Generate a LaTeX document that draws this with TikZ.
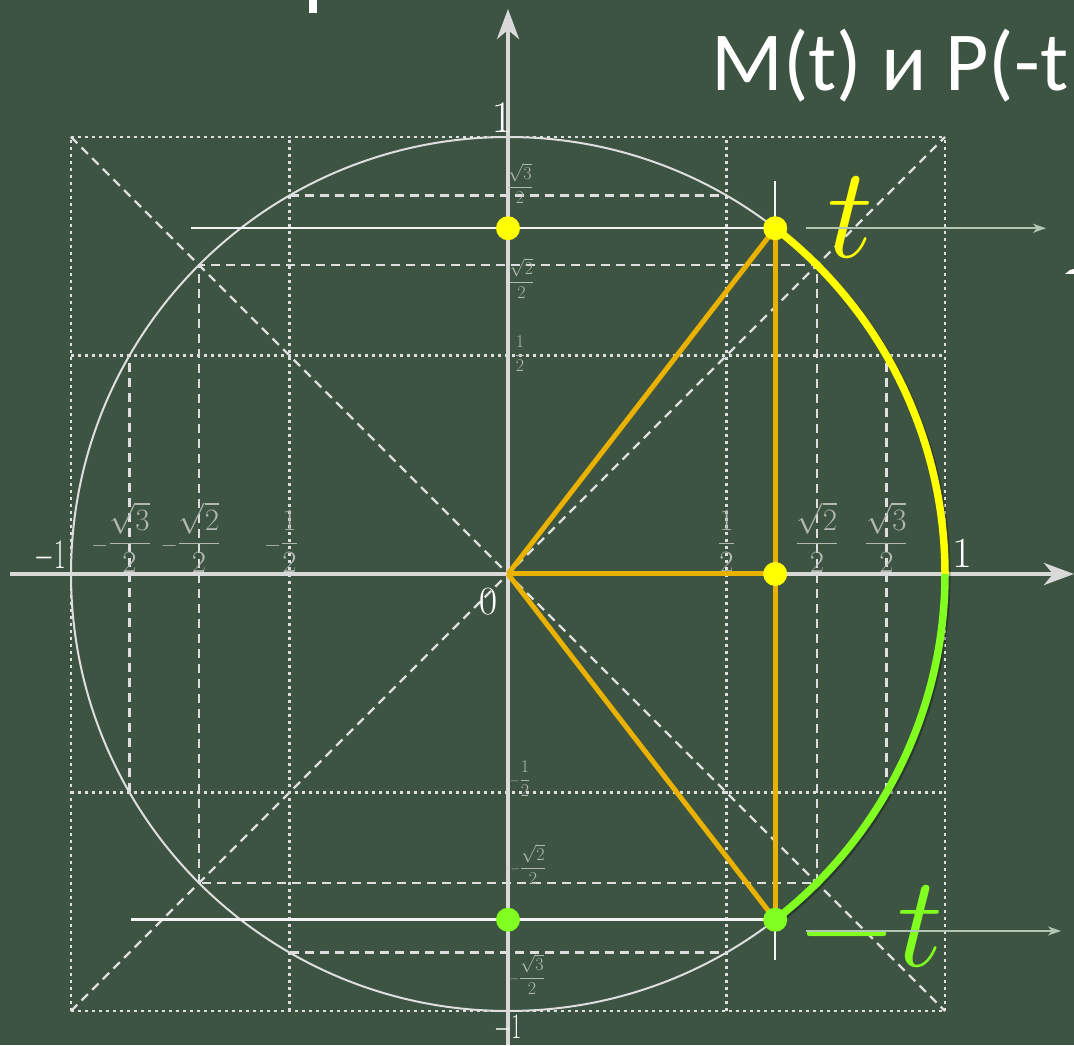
\RequirePackage{fix-cm}
\documentclass[tikz,border=0pt]{standalone}
\usepackage{amsmath}
\usepackage{graphicx}
\usepackage{fontspec}
\newfontfamily\titlefont{Carlito}
\usetikzlibrary{arrows.meta}
\definecolor{bg}{RGB}{62,84,66}
\definecolor{axisc}{RGB}{217,217,217}
\definecolor{gridc}{RGB}{222,222,222}
\definecolor{labc}{RGB}{178,184,178}
\definecolor{goldc}{RGB}{234,178,0}
\definecolor{yel}{RGB}{255,255,0}
\definecolor{grn}{RGB}{128,255,32}
\definecolor{arrc}{RGB}{180,198,180}
\begin{document}
\begin{tikzpicture}[
  dotgrid/.style={draw=gridc, line width=2.6pt, dash pattern=on 2.6pt off 4.4pt},
  dashgrid/.style={draw=gridc, line width=2.2pt, dash pattern=on 9pt off 6pt},
  axisline/.style={draw=axisc, line width=4.5pt, -{Stealth[length=30pt,width=22pt,inset=9pt]}},
  thinwhite/.style={draw=white!92!gray, line width=2.5pt},
  goldline/.style={draw=goldc, line width=5pt},
  dot/.style={circle, inner sep=0pt, minimum size=24pt},
  xlab/.style={text=labc, font=\fontsize{31}{31}\selectfont, inner sep=0pt, anchor=base},
  ylab/.style={text=labc, font=\fontsize{18}{18}\selectfont, inner sep=0pt, anchor=base},
  numlab/.style={text=white, inner sep=0pt, anchor=base},
  ptr/.style={draw=arrc, line width=2pt, -{Stealth[length=13pt,width=9pt,inset=4pt]}},
]
\useasboundingbox (0pt,0pt) rectangle (1074pt,1045pt);
\fill[bg] (0pt,0pt) rectangle (1074pt,1045pt);

\begin{scope}[shift={(508pt,471pt)}, x=437pt, y=437pt]
  \coordinate (O) at (0,0);
  \coordinate (Mc) at (52.3:1);
  \coordinate (Pc) at (-52.3:1);
  \coordinate (Hc) at (Mc |- O);
  \coordinate (Myc) at (Mc -| O);
  \coordinate (Pyc) at (Pc -| O);
  \coordinate (Mtop) at ({cos(52.3)},0.8993);
  \coordinate (Pbot) at ({cos(52.3)},-0.8833);
  \coordinate (Mleft) at (-0.7254,{sin(52.3)});
  \coordinate (Pleft) at (-0.8627,{-sin(52.3)});

  % dotted grid
  \foreach \k in {-1,-0.5,0.5,1} {
    \draw[dotgrid] (\k,-1) -- (\k,1);
    \draw[dotgrid] (-1,\k) -- (1,\k);
  }
  % dashed guides
  \draw[dashgrid] (-0.7071,-0.7071) rectangle (0.7071,0.7071);
  \draw[dashgrid] (-0.5,0.866) -- (0.5,0.866);
  \draw[dashgrid] (-0.5,-0.866) -- (0.5,-0.866);
  \draw[dashgrid] (0.866,-0.5) -- (0.866,0.5);
  \draw[dashgrid] (-0.866,-0.5) -- (-0.866,0.5);
  \draw[dashgrid] (-1,1) -- (1,-1);
  \draw[dashgrid] (-1,-1) -- (1,1);

  % unit circle
  \draw[draw=gridc, line width=2pt] (O) circle[radius=1];

  % thin white lines
  \draw[thinwhite] (Mleft) -- (Mc) -- (Mtop);
  \draw[thinwhite] (Pleft) -- (Pc) -- (Pbot);

  % axes
  \draw[axisline] (-1.1396,0) -- (1.2952,0);
  \draw[axisline] (0,-1.0778) -- (0,1.2929);

  % x-axis labels
  \node[xlab] (xa) at (-0.866,0.0526) {$\llap{$\scriptstyle-$}\dfrac{\sqrt{3}}{2}$};
  \node[xlab] (xb) at (-0.7071,0.0526) {$\llap{$\scriptstyle-$}\dfrac{\sqrt{2}}{2}$};
  \node[xlab] (xc) at (-0.5,0.0526) {$\llap{$\scriptstyle-$}\dfrac{1}{2}$};
  \node[xlab] (xd) at (0.5,0.0526) {$\dfrac{1}{2}$};
  \node[xlab] (xe) at (0.7071,0.0526) {$\dfrac{\sqrt{2}}{2}$};
  \node[xlab] (xf) at (0.866,0.0526) {$\dfrac{\sqrt{3}}{2}$};
  % y-axis labels
  \node[ylab] (ya) at (0.0275,0.8753) {$\dfrac{\sqrt{3}}{2}$};
  \node[ylab] (yb) at (0.0309,0.6579) {$\dfrac{\sqrt{2}}{2}$};
  \node[ylab] (yc) at (0.0275,0.4909) {$\dfrac{1}{2}$};
  \node[ylab] (yd) at (0.0389,-0.4817) {$\llap{$\scriptstyle-$}\dfrac{1}{2}$};
  \node[ylab] (ye) at (0.0572,-0.6831) {$\llap{$\scriptstyle-$}\dfrac{\sqrt{2}}{2}$};
  \node[ylab] (yf) at (0.0549,-0.9348) {$\llap{$\scriptstyle-$}\dfrac{\sqrt{3}}{2}$};
  % unit labels
  \node[numlab, font=\fontsize{42}{42}\selectfont] (xm1) at (-1.0481,0.0137) {\scalebox{0.6}[1]{$-1$}};
  \node[numlab, font=\fontsize{43}{43}\selectfont] (xp1) at (1.0389,0.016) {$1$};
  \node[numlab, font=\fontsize{45}{45}\selectfont] (yp1) at (-0.0137,1.0114) {$1$};
  \node[numlab, font=\fontsize{36}{36}\selectfont] (ym1) at (0,-1.063) {\scalebox{0.6}[1]{$-1$}};
  \node[numlab, font=\fontsize{40}{40}\selectfont] (zero) at (-0.0458,-0.0938) {$0$};

  % gold triangle lines
  \draw[goldline] (O) -- (Hc);
  \draw[goldline] (O) -- (Mc);
  \draw[goldline] (O) -- (Pc);
  \draw[goldline] (Mc) -- (Pc);

  % arcs with soft shadow
  \begin{scope}[transform canvas={shift={(1.8pt,-1.8pt)}}]
    \draw[black, opacity=0.3, line width=7.5pt] (Mc) arc[start angle=52.3, end angle=-52.3, radius=1];
  \end{scope}
  \draw[yel, line width=7.5pt] (Mc) arc[start angle=52.3, end angle=0, radius=1];
  \draw[grn, line width=7.5pt] (1,0) arc[start angle=0, end angle=-52.3, radius=1];

  % dots
  \node[dot, fill=yel] (M) at (Mc) {};
  \node[dot, fill=yel] (My) at (Myc) {};
  \node[dot, fill=yel] (H) at (Hc) {};
  \node[dot, fill=grn] (P) at (Pc) {};
  \node[dot, fill=grn] (Py) at (Pyc) {};

  % t labels
  \node[text=yel, font=\fontsize{130}{130}\selectfont, inner sep=0pt, anchor=base west] (tl) at (0.730,0.7231) {$t$};
  \node[text=grn, font=\fontsize{130}{130}\selectfont, inner sep=0pt, anchor=base west] (mtl) at (0.659,-0.8993) {$-t$};

  % pointer arrows
  \coordinate (a1s) at (0.6819,{sin(52.3)});
  \coordinate (a1e) at (1.2311,{sin(52.3)});
  \coordinate (a2s) at (0.6819,-0.8169);
  \coordinate (a2e) at (1.2654,-0.8169);
  \draw[ptr] (a1s) -- (a1e);
  \draw[ptr] (a2s) -- (a2e);
\end{scope}

% title and cut-off fragments
\node[text=white, font=\titlefont\fontsize{84}{84}\selectfont, inner sep=0pt, anchor=base west] (title) at (711pt,954pt) {M(t) и P(-t};
\fill[white] (309pt,1032pt) rectangle (317pt,1045pt);
\fill[white] (1065pt,771pt) -- (1074pt,771pt) -- (1074pt,776pt) -- (1070pt,775pt) -- cycle;
\end{tikzpicture}
\end{document}
